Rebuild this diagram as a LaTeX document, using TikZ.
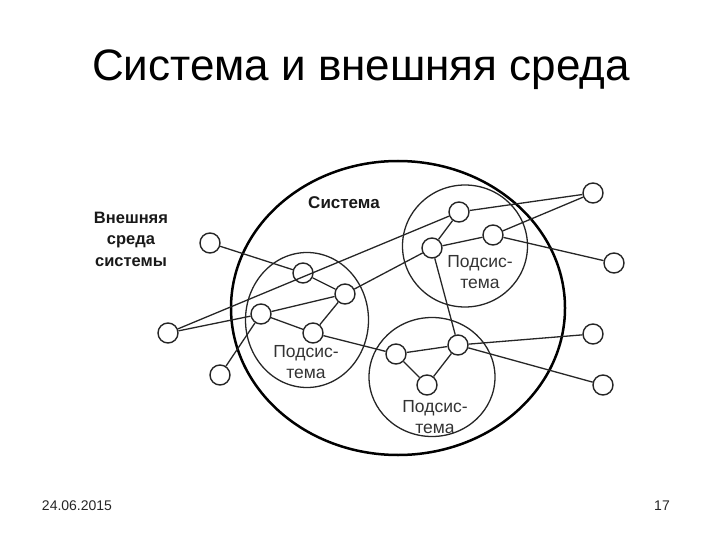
\documentclass[tikz,border=0pt]{standalone}
\usepackage{fontspec}
\setmainfont{Liberation Sans}
\usetikzlibrary{shapes.geometric}
\begin{document}
\begin{tikzpicture}[x=1pt,y=-1pt,
  elem/.style={circle,draw=black!85,line width=1.4pt,minimum size=20pt,inner sep=0pt,fill=white},
  conn/.style={draw=black!85,line width=1.3pt},
  subsys/.style={ellipse,draw=black!85,line width=1.3pt,inner sep=0pt},
  syslbl/.style={font=\fontsize{17}{20}\selectfont\bfseries,inner sep=0pt,text=black!90},
  sublbl/.style={font=\fontsize{17.5}{20.5}\selectfont,align=center,inner sep=0pt,anchor=north,text=black!80},
  envlbl/.style={font=\fontsize{16.5}{21.5}\selectfont\bfseries,align=center,inner sep=0pt,anchor=north,text=black!90}]
\useasboundingbox (0,0) rectangle (720,540);

% title
\node[font=\fontsize{44}{50}\selectfont,anchor=base,inner sep=0pt] (title) at (361,81) {Система и внешняя среда};

% footer
\node[font=\fontsize{14}{16}\selectfont,anchor=base,inner sep=0pt,text=black!85] (date) at (77,510) {24.06.2015};
\node[font=\fontsize{14}{16}\selectfont,anchor=base,inner sep=0pt,text=black!85] (page) at (662,510) {17};

% system and subsystems
\node[ellipse,draw=black,line width=2.5pt,inner sep=0pt,minimum width=334pt,minimum height=294pt] (sys) at (398,308) {};
\node[subsys,minimum width=123pt,minimum height=135pt] (subL) at (307,320) {};
\node[subsys,minimum width=125pt,minimum height=122pt] (subT) at (465,246) {};
\node[subsys,minimum width=126pt,minimum height=119pt] (subB) at (432,377) {};

% labels
\node[syslbl,anchor=base] (syslabel) at (344,208) {Система};
\node[envlbl] (env) at (131,211.5) {Внешняя\\среда\\системы};
\node[sublbl] (labL) at (306,345.5) {Подсис-\\тема};
\node[sublbl] (labT) at (480,255.5) {Подсис-\\тема};
\node[sublbl] (labB) at (435,400.5) {Подсис-\\тема};

% elements
\node[elem] (L1) at (303,273) {};
\node[elem] (L2) at (345,294) {};
\node[elem] (L3) at (261,314) {};
\node[elem] (L4) at (313,333) {};
\node[elem] (T1) at (459,212) {};
\node[elem] (T2) at (493,235) {};
\node[elem] (T3) at (432,248) {};
\node[elem] (B1) at (458,345) {};
\node[elem] (B2) at (396,354) {};
\node[elem] (B3) at (427,385) {};
\node[elem] (eA) at (210,243) {};
\node[elem] (eB) at (168,333) {};
\node[elem] (eC) at (220,375) {};
\node[elem] (eD) at (593,193) {};
\node[elem] (eE) at (614,263) {};
\node[elem] (eF) at (593,334) {};
\node[elem] (eG) at (603,385) {};

% connectors
\path[conn] (eA) -- (L1);
\path[conn] (L1) -- (L2);
\path[conn] (L2) -- (L4);
\path[conn] (L3) -- (L2);
\path[conn] (L3) -- (L4);
\path[conn] (L4) -- (B2);
\path[conn] (eB) -- (L3);
\path[conn] (eB) -- (T1);
\path[conn] (L2) -- (T3);
\path[conn] (eC) -- (L3);
\path[conn] (T1) -- (T3);
\path[conn] (T3) -- (T2);
\path[conn] (T1) -- (eD);
\path[conn] (T2) -- (eD);
\path[conn] (T2) -- (eE);
\path[conn] (T3) -- (B1);
\path[conn] (B2) -- (B1);
\path[conn] (B2) -- (B3);
\path[conn] (B3) -- (B1);
\path[conn] (B1) -- (eF);
\path[conn] (B1) -- (eG);
\end{tikzpicture}
\end{document}
